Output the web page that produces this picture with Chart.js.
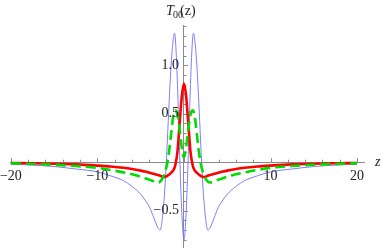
<!DOCTYPE html>
<html>
<head>
<meta charset="utf-8">
<script src="https://cdn.jsdelivr.net/npm/chart.js@4"></script>
<style>
  html, body { margin: 0; padding: 0; background: #fff; }
  #wrap { width: 382px; height: 248px; }
</style>
</head>
<body>
<div id="wrap"><canvas id="chart"></canvas></div>
<script>
// sample positions along z
const zValues = [-20, -17.5, -15, -12.5, -10, -8.5, -7, -6, -5, -4.5, -4, -3.5, -3.25, -3, -2.75, -2.5, -2.25, -2, -1.75, -1.5, -1.25, -1.1, -1, -0.75, -0.5, -0.25,
  0,
  0.25, 0.5, 0.75, 1, 1.1, 1.25, 1.5, 1.75, 2, 2.25, 2.5, 2.75, 3, 3.25, 3.5, 4, 4.5, 5, 6, 7, 8.5, 10, 12.5, 15, 17.5, 20];

// thin blue curve
const blueSeries = [-0.02, -0.03, -0.045, -0.07, -0.1, -0.14, -0.19, -0.25, -0.33, -0.39, -0.46, -0.57, -0.63, -0.68, -0.7, -0.58, -0.33, 0.07, 0.55, 0.98, 1.26, 1.33, 1.28, 0.8, 0.08, -0.52,
  -0.8,
  -0.52, 0.08, 0.8, 1.28, 1.33, 1.26, 0.98, 0.55, 0.07, -0.33, -0.58, -0.7, -0.68, -0.63, -0.57, -0.46, -0.39, -0.33, -0.25, -0.19, -0.14, -0.1, -0.07, -0.045, -0.03, -0.02];

// thick red curve
const redSeries = [-0.008, -0.011, -0.016, -0.023, -0.035, -0.044, -0.057, -0.07, -0.087, -0.097, -0.108, -0.12, -0.126, -0.133, -0.14, -0.15, -0.152, -0.145, -0.13, -0.11, -0.085, -0.06, -0.03, 0.11, 0.4, 0.68,
  0.81,
  0.68, 0.4, 0.11, -0.03, -0.06, -0.085, -0.11, -0.13, -0.145, -0.152, -0.15, -0.14, -0.133, -0.126, -0.12, -0.108, -0.097, -0.087, -0.07, -0.057, -0.044, -0.035, -0.023, -0.016, -0.011, -0.008];

// dashed green curve
const greenSeries = [-0.012, -0.018, -0.027, -0.04, -0.058, -0.08, -0.105, -0.125, -0.15, -0.165, -0.18, -0.197, -0.205, -0.21, -0.2, -0.17, -0.12, -0.04, 0.09, 0.28, 0.47, 0.525, 0.535, 0.49, 0.34, 0.15,
  0.05,
  0.15, 0.34, 0.49, 0.535, 0.525, 0.47, 0.28, 0.09, -0.04, -0.12, -0.17, -0.2, -0.21, -0.205, -0.197, -0.18, -0.165, -0.15, -0.125, -0.105, -0.08, -0.058, -0.04, -0.027, -0.018, -0.012];

// labelled ticks
const xTickValues = [-20, -10, 10, 20];
const yTickValues = [-0.5, 0.5, 1.0];

const toPoints = (ys) => zValues.map((z, i) => ({ x: z, y: ys[i] }));
const minus = (s) => s.replace('-', '\u2212');

const serif = '"Liberation Serif", "Times New Roman", serif';

// Mathematica-like tick marks, tick labels and captions
const axisDecor = {
  id: 'axisDecor',
  beforeDatasetsDraw(chart) {
    const { ctx, scales: { x, y } } = chart;
    const x0 = x.getPixelForValue(0);
    const y0 = y.getPixelForValue(0);
    ctx.save();
    ctx.strokeStyle = '#8a8a8a';
    ctx.lineWidth = 1;
    ctx.beginPath();
    for (let k = -10; k <= 10; k++) {
      const px = Math.round(x.getPixelForValue(k * 2)) + 0.5;
      const len = k % 5 === 0 ? 4 : 2.5;
      ctx.moveTo(px, y0);
      ctx.lineTo(px, y0 - len);
    }
    for (let k = -8; k <= 14; k++) {
      const py = Math.round(y.getPixelForValue(k / 10)) + 0.5;
      const len = k % 5 === 0 ? 4 : 2.5;
      ctx.moveTo(x0, py);
      ctx.lineTo(x0 + len, py);
    }
    ctx.stroke();
    ctx.restore();
  },
  afterDraw(chart) {
    const { ctx, scales: { x, y } } = chart;
    const x0 = x.getPixelForValue(0);
    const y0 = y.getPixelForValue(0);
    ctx.save();
    ctx.fillStyle = '#222';
    ctx.font = '14px ' + serif;
    // x tick labels under the axis
    ctx.textAlign = 'center';
    ctx.textBaseline = 'alphabetic';
    xTickValues.forEach((v) => {
      ctx.fillText(minus(String(v)), x.getPixelForValue(v), y0 + 18);
    });
    // y tick labels left of the axis
    ctx.textAlign = 'right';
    ctx.textBaseline = 'middle';
    yTickValues.forEach((v) => {
      ctx.fillText(minus(v.toFixed(1)), x0 - 5, y.getPixelForValue(v));
    });
    // title T00(z)
    ctx.textAlign = 'left';
    ctx.textBaseline = 'alphabetic';
    ctx.font = 'italic 14px ' + serif;
    ctx.fillText('T', 166, 15);
    ctx.font = '10px ' + serif;
    ctx.fillText('00', 173, 18);
    ctx.font = '14px ' + serif;
    ctx.fillText('(z)', 180, 15);
    // axis name
    ctx.font = 'italic 14px ' + serif;
    ctx.textBaseline = 'middle';
    ctx.fillText('z', 375, y0);
    ctx.restore();
  }
};

const ctx = document.getElementById('chart').getContext('2d');

new Chart(ctx, {
  type: 'line',
  data: {
    datasets: [
      {
        label: 'green',
        data: toPoints(greenSeries),
        borderColor: 'rgb(0, 220, 0)',
        borderWidth: 2.6,
        borderDash: [10, 5],
        pointRadius: 0,
        cubicInterpolationMode: 'monotone',
        fill: false,
      },
      {
        label: 'red',
        data: toPoints(redSeries),
        borderColor: 'rgb(255, 0, 0)',
        borderWidth: 2.6,
        pointRadius: 0,
        cubicInterpolationMode: 'monotone',
        fill: false,
      },
      {
        label: 'blue',
        data: toPoints(blueSeries),
        borderColor: 'rgb(125, 125, 255)',
        borderWidth: 1,
        pointRadius: 0,
        cubicInterpolationMode: 'monotone',
        fill: false,
      },
    ],
  },
  options: {
    responsive: true,
    maintainAspectRatio: false,
    animation: false,
    layout: {
      padding: { left: 10, right: 18, top: 25, bottom: 0 },
    },
    scales: {
      x: {
        type: 'linear',
        min: -20.1,
        max: 20.8,
        position: { y: 0 },
        grid: { display: false, drawTicks: false },
        border: { display: true, color: '#8a8a8a', width: 1 },
        ticks: { display: false },
      },
      y: {
        type: 'linear',
        min: -0.885,
        max: 1.415,
        position: { x: 0 },
        grid: { display: false, drawTicks: false },
        border: { display: true, color: '#8a8a8a', width: 1 },
        ticks: { display: false },
      },
    },
    plugins: {
      legend: { display: false },
      tooltip: { enabled: false },
    },
  },
  plugins: [axisDecor],
});
</script>
</body>
</html>
